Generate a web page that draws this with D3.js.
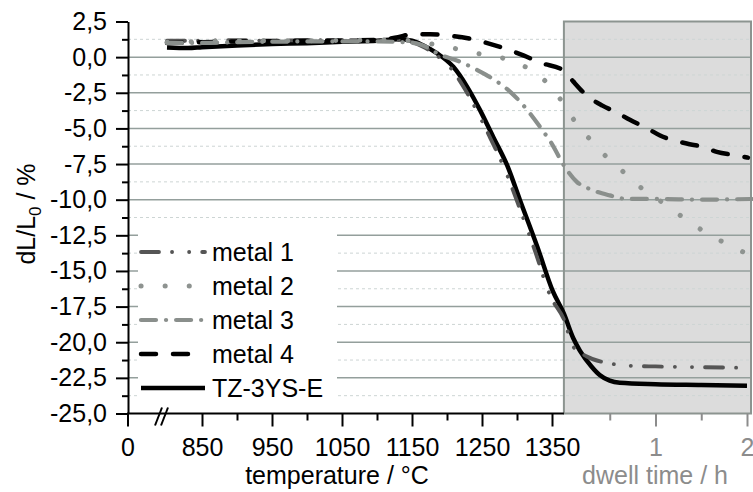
<!DOCTYPE html>
<html><head><meta charset="utf-8">
<script src="https://cdn.jsdelivr.net/npm/d3@7"></script>
<style>
body{margin:0;background:#fff}
svg{display:block;font-family:"Liberation Sans",Arial,sans-serif}
</style>
</head><body>
<svg id="c" width="753" height="492"></svg>
<script>
// ---------- data ----------
const seriesNames = ["metal 1", "metal 2", "metal 3", "metal 4", "TZ-3YS-E"];

// heating phase: [temperature °C, dL/L0 %]
const heatMetal1 = [[800,1.15],[850,1.15],[900,1.2],[950,1.15],[1000,1.2],[1050,1.2],[1100,1.2],[1130,1.2],[1150,1.05],[1165,0.75],[1183,0.2],[1205,-0.75],[1225,-2.2],[1243,-3.8],[1262,-5.7],[1282,-7.8],[1300,-10.1],[1325,-13.5],[1348,-16.8],[1367,-18.4]];
const heatMetal2 = [[800,1.05],[850,1.1],[900,1.15],[1000,1.15],[1100,1.2],[1150,1.15],[1175,0.95],[1201,0.72],[1237,0.3],[1271,0.05],[1301,-0.45],[1330,-1.2],[1350,-2.2],[1367,-3.3]];
const heatMetal3 = [[800,1.0],[850,1.0],[900,1.05],[1000,1.1],[1100,1.1],[1150,1.0],[1161,0.9],[1175,0.6],[1186,0.27],[1219,-0.33],[1243,-0.9],[1271,-1.7],[1286,-2.25],[1304,-3.1],[1333,-4.9],[1350,-6.1],[1367,-7.6]];
const heatMetal4 = [[800,1.0],[850,1.05],[900,1.1],[1000,1.15],[1100,1.2],[1130,1.4],[1150,1.6],[1176,1.6],[1205,1.5],[1237,1.25],[1260,0.95],[1289,0.5],[1310,0.1],[1334,-0.4],[1367,-0.95]];
const heatTZ = [[800,0.68],[830,0.64],[850,0.7],[900,0.82],[950,0.92],[1000,0.98],[1050,1.08],[1100,1.15],[1130,1.25],[1150,1.15],[1165,0.85],[1186,0.26],[1209,-0.68],[1229,-2.1],[1247,-3.7],[1266,-5.6],[1286,-7.6],[1304,-10.0],[1329,-13.3],[1351,-16.4],[1367,-18.0]];

// dwell phase: [time h, dL/L0 %]
const dwellMetal1 = [[0,-18.4],[0.1,-20.3],[0.25,-21.0],[0.47,-21.45],[0.72,-21.65],[1.0,-21.7],[1.5,-21.75],[2.03,-21.8]];
const dwellMetal2 = [[0,-3.3],[0.15,-4.8],[0.32,-6.0],[0.48,-7.1],[0.64,-8.0],[0.81,-9.0],[0.99,-9.8],[1.27,-11.1],[1.45,-11.9],[1.63,-12.6],[1.84,-13.3],[2.0,-13.8]];
const dwellMetal3 = [[0,-7.6],[0.14,-8.75],[0.28,-9.25],[0.5,-9.7],[0.69,-9.95],[1.0,-9.95],[1.5,-10.0],[2.05,-9.95]];
const dwellMetal4 = [[0,-0.95],[0.1,-1.7],[0.25,-2.7],[0.42,-3.4],[0.58,-3.9],[0.72,-4.4],[0.91,-5.0],[1.05,-5.5],[1.34,-6.06],[1.52,-6.3],[1.67,-6.65],[1.89,-6.9],[2.01,-7.05]];
const dwellTZ = [[0,-18.0],[0.1,-19.7],[0.175,-20.6],[0.3,-21.7],[0.39,-22.3],[0.5,-22.7],[0.61,-22.85],[1.0,-22.95],[1.5,-23.0],[2.0,-23.05]];

const yTicks = [2.5,0,-2.5,-5,-7.5,-10,-12.5,-15,-17.5,-20,-22.5,-25];
const yMinorTicks = [1.25,-1.25,-3.75,-6.25,-8.75,-11.25,-13.75,-16.25,-18.75,-21.25,-23.75];
const tempTicks = [850,950,1050,1150,1250,1350];
const tempMinorTicks = [900,1000,1100,1200,1300];
const timeTicks = [1,2];
const timeMinorTicks = [0.5,1.5];

// ---------- layout ----------
const svg = d3.select("#c");
const FONT = 25;
const y = d3.scaleLinear().domain([-25, 2.5]).range([413.5, 21.5]);
const xT = d3.scaleLinear().domain([850, 1350]).range([202, 552]);   // temperature part
const xt = d3.scaleLinear().domain([0, 2]).range([564, 747]);        // dwell part
const xLeft = 128, xRight = 752, tEnd = 1367;
const LABEL_Y = 42, TITLE_Y = 484;

// grey dwell region
svg.append("rect").attr("x", xT(tEnd)).attr("y", y(2.5))
  .attr("width", xRight - xT(tEnd)).attr("height", y(-25) - y(2.5))
  .attr("fill", "#dcdcdc");

// grid
svg.append("g").selectAll("line").data(yMinorTicks).join("line")
  .attr("x1", xLeft).attr("x2", xRight).attr("y1", d => y(d)).attr("y2", d => y(d))
  .attr("stroke", "#cdd5d4").attr("stroke-width", 1).attr("stroke-dasharray", "3,3");
svg.append("g").selectAll("line").data(yTicks.filter(d => d < 2.5 && d > -25)).join("line")
  .attr("x1", xLeft).attr("x2", xRight).attr("y1", d => y(d)).attr("y2", d => y(d))
  .attr("stroke", "#949f9c").attr("stroke-width", 1.5);

// grey region border
svg.append("rect").attr("x", xT(tEnd)).attr("y", y(2.5))
  .attr("width", xRight - xT(tEnd) - 1).attr("height", y(-25) - y(2.5))
  .attr("fill", "none").attr("stroke", "#8c9490").attr("stroke-width", 2);

// ---------- series ----------
const styles = [
  {color:"#555555", width:3.8, dash:"18,13,0.1,17,0.1,13", cap:"round"},
  {color:"#8e9390", width:5, dash:"0.1,24", cap:"round"},
  {color:"#8a8f8c", width:4.2, dash:"15,10,0.1,10", cap:"round"},
  {color:"#000000", width:4.5, dash:"15,17", cap:"round"},
  {color:"#000000", width:4.5, dash:null, cap:"butt"}
];
const heats = [heatMetal1, heatMetal2, heatMetal3, heatMetal4, heatTZ];
const dwells = [dwellMetal1, dwellMetal2, dwellMetal3, dwellMetal4, dwellTZ];

const line = d3.line().x(d => d[0]).y(d => d[1]).curve(d3.curveMonotoneX);
const order = [4, 0, 3, 2, 1];
order.forEach(i => {
  const pts = heats[i].map(d => [xT(d[0]), y(d[1])])
    .concat(dwells[i].slice(1).map(d => [xt(d[0]), y(d[1])]));
  svg.append("path").attr("d", line(pts)).attr("fill", "none")
    .attr("stroke", styles[i].color).attr("stroke-width", styles[i].width)
    .attr("stroke-dasharray", styles[i].dash).attr("stroke-linecap", styles[i].cap)
    .attr("stroke-linejoin", "round");
});

// ---------- legend ----------
const lg = svg.append("g");
lg.append("rect").attr("x", 138).attr("y", 229).attr("width", 199).attr("height", 181).attr("fill", "#fff");
seriesNames.forEach((name, i) => {
  const yy = 252 + i * 34;
  lg.append("line").attr("x1", 141).attr("x2", 205).attr("y1", yy).attr("y2", yy)
    .attr("stroke", styles[i].color).attr("stroke-width", styles[i].width)
    .attr("stroke-dasharray", styles[i].dash).attr("stroke-linecap", styles[i].cap);
  lg.append("text").attr("x", 212).attr("y", yy).attr("dy", "0.36em")
    .attr("font-size", FONT).attr("fill", "#000").text(name);
});

// ---------- axes ----------
const fmt = d => d3.format(".1f")(d).replace(".", ",").replace("\u2212", "-");
const yAxis = svg.append("g").attr("transform", `translate(${xLeft},0)`)
  .call(d3.axisLeft(y).tickValues(yTicks).tickSize(12).tickSizeOuter(0).tickPadding(9).tickFormat(fmt));
yAxis.select(".domain").attr("stroke-width", 2);
yAxis.selectAll(".tick line").attr("stroke-width", 2);
yAxis.selectAll("text").attr("font-size", FONT).attr("font-family", null).attr("fill", "#000");
svg.append("g").attr("transform", `translate(${xLeft},0)`)
  .call(d3.axisLeft(y).tickValues(yMinorTicks).tickSize(6).tickSizeOuter(0).tickFormat(""))
  .call(g => g.select(".domain").remove())
  .selectAll(".tick line").attr("stroke-width", 2);

// x axis line (temperature part)
svg.append("line").attr("x1", xLeft - 1).attr("x2", xT(tEnd)).attr("y1", y(-25)).attr("y2", y(-25))
  .attr("stroke", "#000").attr("stroke-width", 2);

const xAxisT = svg.append("g").attr("transform", `translate(0,${y(-25)})`)
  .call(d3.axisBottom(xT).tickValues(tempTicks).tickSize(13).tickSizeOuter(0).tickFormat(d3.format("d")));
xAxisT.select(".domain").remove();
xAxisT.selectAll(".tick line").attr("stroke-width", 2);
xAxisT.selectAll("text").attr("font-size", FONT).attr("font-family", null).attr("dy", null).attr("y", LABEL_Y).attr("fill", "#000");
svg.append("g").attr("transform", `translate(0,${y(-25)})`)
  .call(d3.axisBottom(xT).tickValues(tempMinorTicks).tickSize(7).tickSizeOuter(0).tickFormat(""))
  .call(g => g.select(".domain").remove())
  .selectAll(".tick line").attr("stroke-width", 2);

// origin "0" tick
svg.append("line").attr("x1", xLeft).attr("x2", xLeft).attr("y1", y(-25)).attr("y2", y(-25) + 13)
  .attr("stroke", "#000").attr("stroke-width", 2);
svg.append("text").attr("x", xLeft).attr("y", y(-25) + LABEL_Y).attr("text-anchor", "middle")
  .attr("font-size", FONT).text("0");

// axis break marks
[0, 6].forEach(o => {
  svg.append("line").attr("x1", 155 + o).attr("y1", y(-25) + 12).attr("x2", 162 + o).attr("y2", y(-25) - 6)
    .attr("stroke", "#000").attr("stroke-width", 2);
});

// time axis
const tg = "#8c8c8c";
const xAxist = svg.append("g").attr("transform", `translate(0,${y(-25)})`)
  .call(d3.axisBottom(xt).tickValues(timeTicks).tickSize(13).tickSizeOuter(0).tickFormat(d3.format("d")));
xAxist.select(".domain").remove();
xAxist.selectAll(".tick line").attr("stroke", tg).attr("stroke-width", 2);
xAxist.selectAll("text").attr("font-size", FONT).attr("font-family", null).attr("dy", null).attr("y", LABEL_Y).attr("fill", tg);
svg.append("g").attr("transform", `translate(0,${y(-25)})`)
  .call(d3.axisBottom(xt).tickValues(timeMinorTicks).tickSize(7).tickSizeOuter(0).tickFormat(""))
  .call(g => g.select(".domain").remove())
  .selectAll(".tick line").attr("stroke", tg).attr("stroke-width", 2);

// axis titles
svg.append("text").attr("x", 337).attr("y", TITLE_Y).attr("text-anchor", "middle")
  .attr("font-size", FONT).attr("fill", "#000").text("temperature / °C");
svg.append("text").attr("x", 655).attr("y", TITLE_Y).attr("text-anchor", "middle")
  .attr("font-size", FONT).attr("fill", tg).text("dwell time / h");
const yl = svg.append("text").attr("transform", "translate(35,214) rotate(-90)")
  .attr("text-anchor", "middle").attr("font-size", FONT).attr("fill", "#000");
yl.append("tspan").text("dL/L");
yl.append("tspan").attr("font-size", 17).attr("dy", 6).text("0");
yl.append("tspan").attr("dy", -6).text(" / %");
</script>
</body></html>
